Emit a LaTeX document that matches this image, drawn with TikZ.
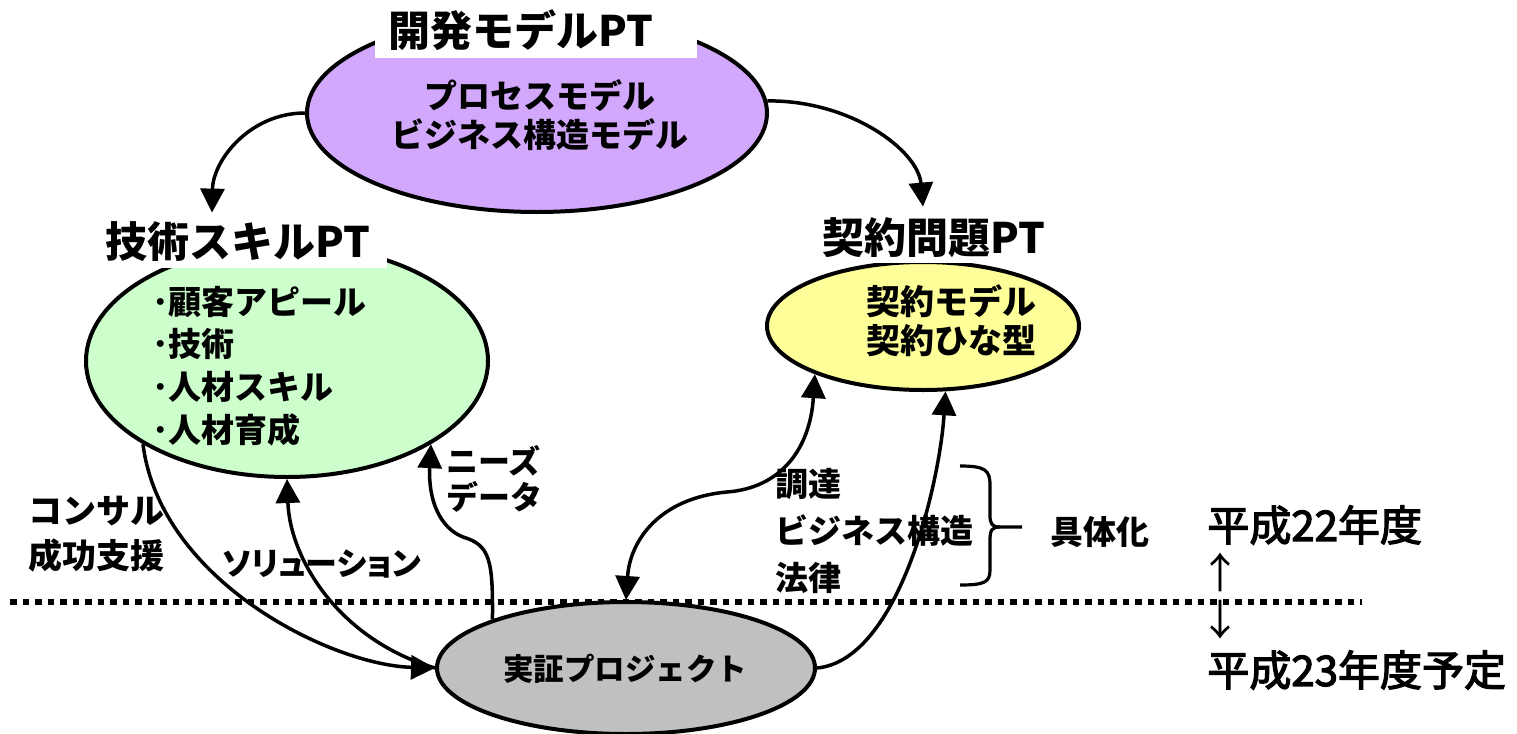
\documentclass[tikz,border=0pt]{standalone}
\usepackage{fontspec}
\setmainfont{Noto Sans CJK JP}
\newfontfamily\yearfont{Noto Sans CJK JP}[FakeBold=3]
\usetikzlibrary{shapes.geometric,arrows.meta,calc}
\definecolor{devfill}{RGB}{210,168,252}
\definecolor{skillfill}{RGB}{204,255,204}
\definecolor{contractfill}{RGB}{255,255,153}
\definecolor{demofill}{RGB}{192,192,192}
\begin{document}
\begin{tikzpicture}[x=0.5pt,y=-0.5pt,
  ell/.style={ellipse, draw, line width=2pt, inner sep=0pt},
  conn/.style={line width=1.75pt, -{Triangle[length=12pt,width=12pt]}},
  dconn/.style={line width=1.75pt, {Triangle[length=12pt,width=12pt]}-{Triangle[length=12pt,width=12pt]}},
  ttl/.style={fill=white, font=\bfseries\fontsize{21}{25}\selectfont, inner ysep=0pt, align=left, anchor=west},
  body/.style={font=\bfseries\fontsize{16.5}{19.5}\selectfont, inner sep=0pt},
  lbl/.style={font=\bfseries\fontsize{16}{22.5}\selectfont, align=left, inner sep=0pt, anchor=west},
  year/.style={font=\yearfont\fontsize{21}{25}\selectfont, inner sep=0pt},
  yarrow/.style={font=\fontsize{21}{25}\selectfont, inner sep=0pt},
  divider/.style={line width=2.75pt, dash pattern=on 3.25pt off 3pt},
  bracepath/.style={line width=1.6pt},
]
\useasboundingbox (0,0) rectangle (1517,734);
\draw[divider] (10,602) -- (1362,602);

% ellipses
\node[ell, fill=devfill, minimum width=230pt, minimum height=99pt] (dev) at (537,113) {};
\node[ell, fill=skillfill, minimum width=201pt, minimum height=116pt] (skill) at (287,361) {};
\node[ell, fill=contractfill, minimum width=156pt, minimum height=64pt] (contract) at (923,326) {};
\node[ell, fill=demofill, minimum width=189pt, minimum height=66pt] (demo) at (626,668) {};

% titles
\node[ttl, inner xsep=6.5pt, text width=148pt, minimum height=27.5pt] (devT) at (375,30.5) {開発モデルPT};
\node[ttl, inner xsep=2.5pt, text width=138.5pt, minimum height=26pt] (skillT) at (100,242) {技術スキルPT};
\node[ttl, inner xsep=2pt, text width=112pt, minimum height=25.5pt] (contractT) at (818,237.5) {契約問題PT};

% contents
\node[body, align=center] (devtext) at (540,115) {プロセスモデル\\ビジネス構造モデル};
\node[body, align=left, anchor=west, font=\bfseries\fontsize{16.5}{21.3}\selectfont] (skilltext) at (152,366) {･顧客アピール\\･技術\\･人材スキル\\･人材育成};
\node[body, align=center, font=\bfseries\fontsize{17}{19.5}\selectfont] (contracttext) at (951,321) {契約モデル\\契約ひな型};
\node[body, font=\bfseries\fontsize{15.25}{18}\selectfont] (demotext) at (625,669) {実証プロジェクト};

% labels
\node[lbl, font=\bfseries\fontsize{17}{22.5}\selectfont] (consult) at (28,534) {コンサル\\成功支援};
\node[lbl, font=\bfseries\fontsize{16}{22.5}\selectfont\addfontfeature{RawFeature=+palt}] (solution) at (222,564) {ソリューション};
\node[lbl, font=\bfseries\fontsize{16}{18}\selectfont] (needs) at (446,479) {ニーズ\\データ};
\node[lbl, font=\bfseries\fontsize{16.5}{23.5}\selectfont] (topics) at (775,531) {調達\\ビジネス構造\\法律};
\node[lbl, font=\bfseries\fontsize{16.5}{20}\selectfont] (concrete) at (1050,532) {具体化};
\node[year, anchor=west] (y22) at (1207,525) {平成22年度};
\node[year, anchor=west] (y23) at (1207,670) {平成23年度予定};
\node[yarrow] (upA) at (1220,572) {↑};
\node[yarrow] (downA) at (1220,620) {↓};

% brace
\draw[bracepath] (960,466) .. controls (985,466) and (990,470) .. (990,485) -- (990,515) .. controls (990,524) and (992,527) .. (1000,527) -- (1022,527);
\draw[bracepath] (1000,527) .. controls (992,527) and (990,530) .. (990,540) -- (990,570) .. controls (990,582) and (985,585) .. (960,585);

% connectors
\draw[conn] (dev.west) .. controls (250,113) and (213,160) .. ($(skillT.north west)+(112,-3)$);
\draw[conn] (dev.3) .. controls (850,100) and (918,150) .. ($(contractT.north west)+(105,-5)$);
\draw[conn] (skill.210) .. controls (160,580) and (330,665) .. (demo.west);
\draw[conn] (demo.west) .. controls (340,640) and (290,560) .. (skill.south);
\draw[conn] (demo.160) .. controls (493,560) and (490,545) .. (463,537) .. controls (440,528) and (428,500) .. (skill.-30);
\draw[dconn] (contract.204) .. controls (810,450) and (780,488) .. (727,492) .. controls (660,498) and (630,540) .. (demo.north);
\draw[conn] (demo.east) .. controls (900,660) and (940,480) .. (contract.289);
\end{tikzpicture}
\end{document}
